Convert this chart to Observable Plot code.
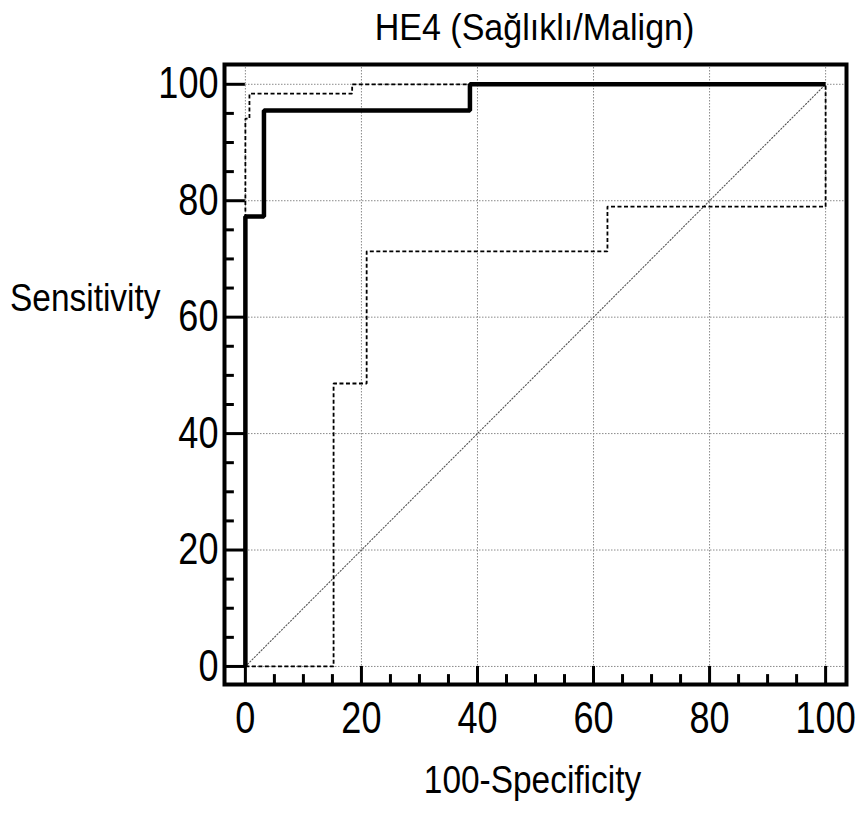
<!DOCTYPE html>
<html>
<head>
<meta charset="utf-8">
<script src="https://cdn.jsdelivr.net/npm/d3@7"></script>
<script src="https://cdn.jsdelivr.net/npm/@observablehq/plot@0.6"></script>
<style>
  body { margin: 0; background: #fff; }
  svg { display: block; }
</style>
</head>
<body>
<div id="chart"></div>
<script>
// Labels
const title = "HE4 (Sağlıklı/Malign)";
const xLabel = "100-Specificity";
const yLabel = "Sensitivity";

// Empirical ROC curve (100-specificity vs sensitivity), drawn as steps
const rocFpr  = [0, 0, 3.2, 38.7, 100];
const rocSens = [0, 77.3, 95.5, 100, 100];

// Lower confidence bound
const lowerFpr  = [0, 15.2, 20.9, 62.4, 100];
const lowerSens = [0, 48.6, 71.3, 79.0, 100];

// Upper confidence bound
const upperFpr  = [0, 0.7, 18.4, 100];
const upperSens = [0, 94.1, 98.4, 100];

// Reference diagonal
const diagX = [0, 100];
const diagY = [0, 100];

// Axis ticks
const majorTicks = [0, 20, 40, 60, 80, 100];
const minorTicks = [5, 10, 15, 25, 30, 35, 45, 50, 55, 65, 70, 75, 85, 90, 95];

const xDomain = [-3.6, 103.6];
const yDomain = [-3.1, 103.4];
const minorLen = 1.7;

const pts = (xs, ys) => xs.map((x, i) => ({x, y: ys[i]}));

const bandStyle = {x: "x", y: "y", stroke: "#000", strokeWidth: 1.8, strokeDasharray: "4,2.5", strokeLinejoin: "miter", strokeLinecap: "butt"};

const chart = Plot.plot({
  width: 859,
  height: 814,
  marginLeft: 224,
  marginRight: 13,
  marginTop: 64,
  marginBottom: 130,
  style: {fontFamily: "'Liberation Sans', Arial, sans-serif", background: "#fff", color: "#000"},
  x: {domain: xDomain, axis: null},
  y: {domain: yDomain, axis: null},
  marks: [
    // dotted grid
    Plot.ruleX(majorTicks, {x: d => d, stroke: "#8a8a8a", strokeWidth: 1, strokeDasharray: "1.5,1.5"}),
    Plot.ruleY(majorTicks, {y: d => d, stroke: "#8a8a8a", strokeWidth: 1, strokeDasharray: "1.5,1.5"}),
    // chance diagonal
    Plot.line(pts(diagX, diagY), {x: "x", y: "y", stroke: "#555", strokeWidth: 1.1, strokeDasharray: "1.2,2"}),
    // confidence bounds
    Plot.line(pts(lowerFpr, lowerSens), {...bandStyle, curve: "step-after"}),
    Plot.line(pts(upperFpr, upperSens), {...bandStyle, curve: "step-before"}),
    // ROC curve
    Plot.line(pts(rocFpr, rocSens), {x: "x", y: "y", curve: "step-after", stroke: "#000", strokeWidth: 4.5, strokeLinejoin: "miter", strokeLinecap: "butt"}),
    // inward ticks
    Plot.ruleX(majorTicks, {x: d => d, y1: yDomain[0], y2: 0, stroke: "#000", strokeWidth: 3}),
    Plot.ruleX(minorTicks, {x: d => d, y1: yDomain[0], y2: yDomain[0] + minorLen, stroke: "#000", strokeWidth: 3}),
    Plot.ruleY(majorTicks, {y: d => d, x1: xDomain[0], x2: 0, stroke: "#000", strokeWidth: 3}),
    Plot.ruleY(minorTicks, {y: d => d, x1: xDomain[0], x2: xDomain[0] + minorLen, stroke: "#000", strokeWidth: 3}),
    // frame
    Plot.frame({stroke: "#000", strokeWidth: 4}),
    // tick labels
    Plot.text(majorTicks, {x: d => d, text: d => String(d), frameAnchor: "bottom", dy: 34, fontSize: 44, lineAnchor: "middle", fill: "#000", ariaDescription: "ticklabels"}),
    Plot.text(majorTicks, {y: d => d, text: d => String(d), frameAnchor: "left", dx: -6, textAnchor: "end", fontSize: 44, lineAnchor: "middle", fill: "#000", ariaDescription: "ticklabels"}),
    // axis titles and chart title
    Plot.text([xLabel], {text: d => d, frameAnchor: "bottom", dx: -3, dy: 96, fontSize: 38, lineAnchor: "middle", fill: "#000", ariaDescription: "axistitles"}),
    Plot.text([yLabel], {text: d => d, frameAnchor: "left", dx: -64, dy: -76, textAnchor: "end", fontSize: 38, lineAnchor: "middle", fill: "#000", ariaDescription: "axistitles"}),
    Plot.text([title], {text: d => d, frameAnchor: "top", dx: -1, dy: -36, fontSize: 37, lineAnchor: "middle", fill: "#000", ariaDescription: "title"})
  ]
});

// condensed lettering
const squeeze = {ticklabels: 0.82, axistitles: 0.88, title: 0.92};
for (const [key, sx] of Object.entries(squeeze)) {
  chart.querySelectorAll(`g[aria-description="${key}"] text`).forEach(t => {
    const tr = t.getAttribute("transform") || "";
    t.setAttribute("transform", `${tr} scale(${sx},1)`);
  });
}

document.getElementById("chart").appendChild(chart);
</script>
</body>
</html>
